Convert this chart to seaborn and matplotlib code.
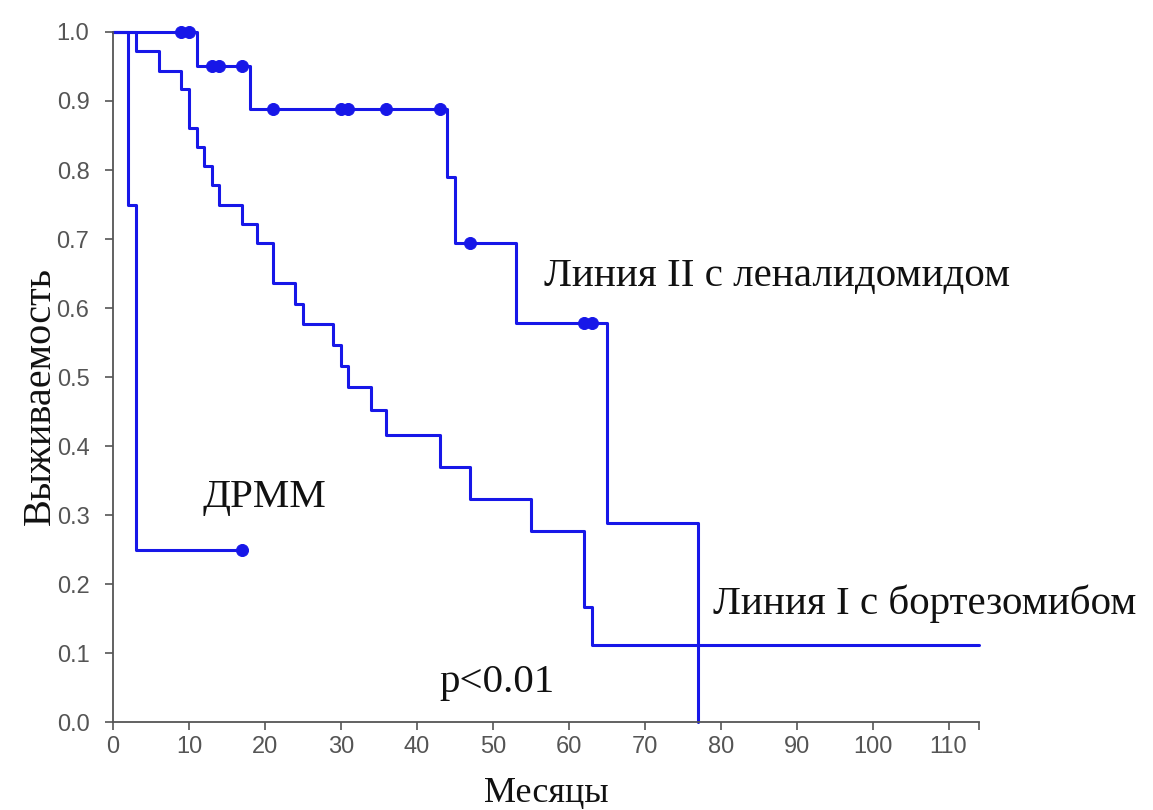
import matplotlib
matplotlib.use('Agg')
import matplotlib.pyplot as plt
import seaborn as sns
import numpy as np

# ДРММ
drmm_t = [0, 2, 3, 17]
drmm_s = [1.0, 0.75, 0.25, 0.25]
drmm_cens = [17]

# Линия II с леналидомидом
len_t = [0, 11, 18, 44, 45, 53, 65, 77, 77]
len_s = [1.0, 0.95, 0.889, 0.79, 0.694, 0.578, 0.289, 0.0, 0.0]
len_cens = [9, 10, 13, 14, 17, 21, 30, 31, 36, 43, 47, 62, 63]

# Линия I с бортезомибом
bor_t = [0, 3, 6, 9, 10, 11, 12, 13, 14, 17, 19, 21, 24, 25, 29, 30, 31, 34, 36, 43, 47, 55, 62, 63, 114]
bor_s = [1.0, 0.972, 0.944, 0.917, 0.861, 0.833, 0.806, 0.778, 0.75, 0.722, 0.694, 0.636, 0.606,
         0.577, 0.546, 0.516, 0.485, 0.452, 0.416, 0.37, 0.323, 0.277, 0.166, 0.111, 0.111]

x_ticks = list(range(0, 111, 10))
y_ticks = [0.0, 0.1, 0.2, 0.3, 0.4, 0.5, 0.6, 0.7, 0.8, 0.9, 1.0]

blue = '#1717e8'
serif = 'Liberation Serif'

sns.set_style('ticks')
plt.rcParams['font.family'] = ['Liberation Sans', 'DejaVu Sans']

fig = plt.figure(figsize=(11.53, 8.10), dpi=100)
ax = fig.add_axes([0.098, 0.1086, 0.751, 0.8519])


def step_value(t, s, x):
    i = np.searchsorted(t, x, side='right') - 1
    return s[i]


for t, s, cens in [(drmm_t, drmm_s, drmm_cens), (len_t, len_s, len_cens), (bor_t, bor_s, [])]:
    sns.lineplot(x=t, y=s, drawstyle='steps-post', color=blue, linewidth=2.2,
                 estimator=None, sort=False, ax=ax, clip_on=False)
    if cens:
        cy = [step_value(t, s, c) for c in cens]
        sns.scatterplot(x=cens, y=cy, color=blue, edgecolor=blue, s=75, ax=ax,
                        clip_on=False, zorder=5)

ax.set_xlim(0, 114)
ax.set_ylim(0, 1.0)
ax.set_xticks(x_ticks)
ax.set_xticks([114], minor=True)
ax.set_yticks(y_ticks)
ax.set_yticklabels([f'{v:.1f}' for v in y_ticks])
ax.tick_params(axis='both', which='both', length=6, width=1.2, color='#555555',
               labelcolor='#555555', labelsize=17)
ax.tick_params(axis='y', pad=11)
ax.tick_params(axis='x', pad=4)
for side in ['left', 'bottom']:
    ax.spines[side].set_color('#555555')
    ax.spines[side].set_linewidth(1.3)
sns.despine(ax=ax)

ax.set_xlabel('Месяцы', family=serif, fontsize=26, color='#111111')
ax.set_ylabel('Выживаемость', family=serif, fontsize=29, color='#111111')
ax.xaxis.set_label_coords(0.5, -0.079)
ax.yaxis.set_label_coords(-0.062, 0.472)

ax.text(56.8, 0.645, 'Линия II с леналидомидом', family=serif, fontsize=29.5, va='center', color='#111111')
ax.text(11.8, 0.326, 'ДРММ', family=serif, fontsize=29.5, va='center', color='#111111')
ax.text(79, 0.172, 'Линия I с бортезомибом', family=serif, fontsize=29.5, va='center', color='#111111')
ax.text(43, 0.057, 'p<0.01', family=serif, fontsize=29.5, va='center', color='#111111')

fig.savefig('out.png', dpi=100, facecolor='white')
